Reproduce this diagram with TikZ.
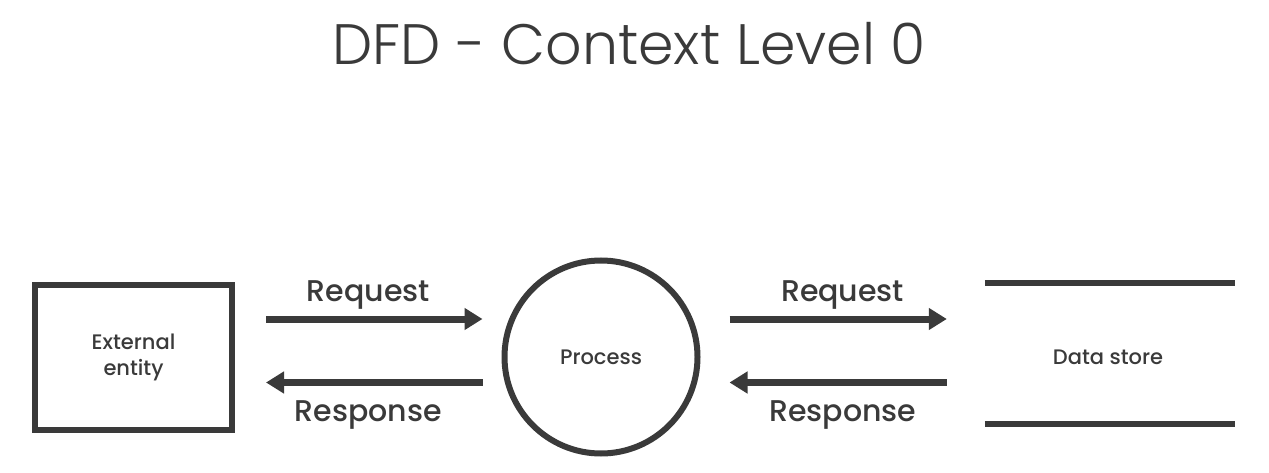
\documentclass[tikz,border=0pt]{standalone}
\usepackage{fontspec}
\setmainfont{Poppins Medium}
\newfontfamily\titlefont{Poppins Light}
\usetikzlibrary{arrows.meta,positioning,calc}

\definecolor{ink}{HTML}{3A3A3A}

\tikzset{
  entitybox/.style={draw=ink, line width=6pt, minimum width=197pt, minimum height=145pt,
    align=center, font=\fontsize{21}{25}\selectfont, text=ink},
  procnode/.style={circle, draw=ink, line width=6pt, minimum size=193pt,
    font=\fontsize{21}{25}\selectfont, text=ink},
  storenode/.style={minimum width=250pt, minimum height=141pt},
  storeline/.style={draw=ink, line width=6pt},
  smalltext/.style={font=\fontsize{21}{25}\selectfont, text=ink},
  flow/.style={draw=ink, line width=7pt, -{Triangle[length=18pt,width=21pt]}},
  flowlabel/.style={inner sep=0pt, font=\fontsize{30}{34}\selectfont, text=ink}
}

\begin{document}
\begin{tikzpicture}[x=1pt, y=-1pt]

    % Fix the page size
    \useasboundingbox (0,0) rectangle (1269,473);

    % Title
    \node [font=\titlefont\fontsize{57}{60}\selectfont, text=ink] (title) at (629,44) {DFD - Context Level 0};

    % The three elements
    \node [entitybox] (entity) at (133.5,357) {External\\[1pt]entity};
    \node [procnode] (proc) at (601,357) {Process};
    \node [storenode] (store) at (1110,353.5) {};
    \node [smalltext] (storetext) at (1108,357) {Data store};

    % Lines of the data store
    \draw [storeline] (store.north west) -- (store.north east);
    \draw [storeline] (store.south west) -- (store.south east);

    % Flows between entity and process
    \draw [flow, shorten <=31pt, shorten >=19pt]
      ([yshift=38pt]entity.east |- proc.center) -- ([yshift=38pt]proc.west)
      node [flowlabel, midway, above=6pt] (req1) {Request};
    \draw [flow, shorten <=19pt, shorten >=31pt]
      ([yshift=-25.5pt]proc.west) -- ([yshift=-25.5pt]entity.east |- proc.center)
      node [flowlabel, midway, below=15pt] (resp1) {Response};

    % Flows between process and data store
    \draw [flow, shorten <=29pt, shorten >=38pt]
      ([yshift=38pt]proc.east) -- ([yshift=38pt]proc.east -| store.west)
      node [flowlabel, midway, above=6pt] (req2) {Request};
    \draw [flow, shorten <=38pt, shorten >=29pt]
      ([yshift=-25.5pt]proc.east -| store.west) -- ([yshift=-25.5pt]proc.east)
      node [flowlabel, midway, below=15pt] (resp2) {Response};
  \end{tikzpicture}
\end{document}
